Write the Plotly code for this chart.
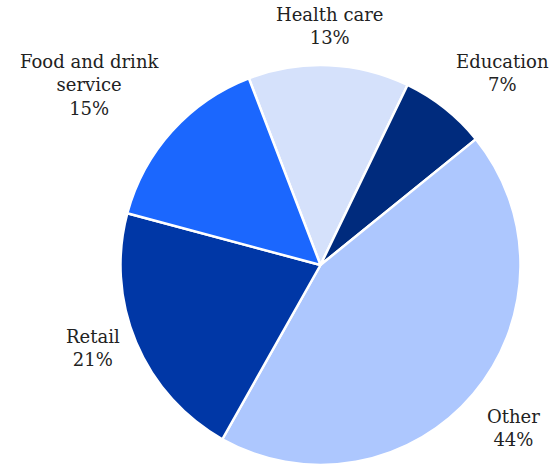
import math
import plotly.graph_objects as go

# Share of workers by industry
industries = ["Health care", "Education", "Other", "Retail", "Food and drink<br>service"]
shares = [13, 7, 44, 21, 15]
slice_colors = ["#d5e1fb", "#002b7d", "#adc7fe", "#0037a6", "#1b67fe"]

W, H = 560, 467
START_ANGLE = -21          # degrees clockwise from 12 o'clock where the first slice begins
CX, CY, R = 320.5, 265.0, 200.0   # pie centre and radius in pixels
LABEL_GAP = 15             # distance between rim and label anchor

fig = go.Figure(
    go.Pie(
        labels=industries,
        values=shares,
        sort=False,
        direction="clockwise",
        rotation=START_ANGLE,
        marker=dict(colors=slice_colors, line=dict(color="white", width=2.5)),
        textinfo="none",
        hoverinfo="label+value",
        showlegend=False,
        domain=dict(x=[(CX - R) / W, (CX + R) / W], y=[(H - CY - R) / H, (H - CY + R) / H]),
        automargin=False,
    )
)

# Outside labels placed along each slice's mid-angle
total = sum(shares)
cum = 0
for name, val in zip(industries, shares):
    mid = START_ANGLE + (cum + val / 2) / total * 360
    cum += val
    a = math.radians(mid)
    s, c = math.sin(a), math.cos(a)
    px = CX + (R + LABEL_GAP) * s
    py = CY - (R + LABEL_GAP) * c
    xanchor = "left" if s > 0.3 else ("right" if s < -0.3 else "center")
    yanchor = "bottom" if c > 0.5 else ("top" if c < -0.5 else "middle")
    fig.add_annotation(
        x=px / W,
        y=1 - py / H,
        xref="paper",
        yref="paper",
        xanchor=xanchor,
        yanchor=yanchor,
        text=f"{name}<br>{val}%",
        showarrow=False,
        align="center",
        font=dict(family="DejaVu Serif", size=18, color="#222222"),
    )

fig.update_layout(
    width=W,
    height=H,
    margin=dict(l=0, r=0, t=0, b=0),
    paper_bgcolor="white",
    plot_bgcolor="white",
)

fig.write_html("out.html")
